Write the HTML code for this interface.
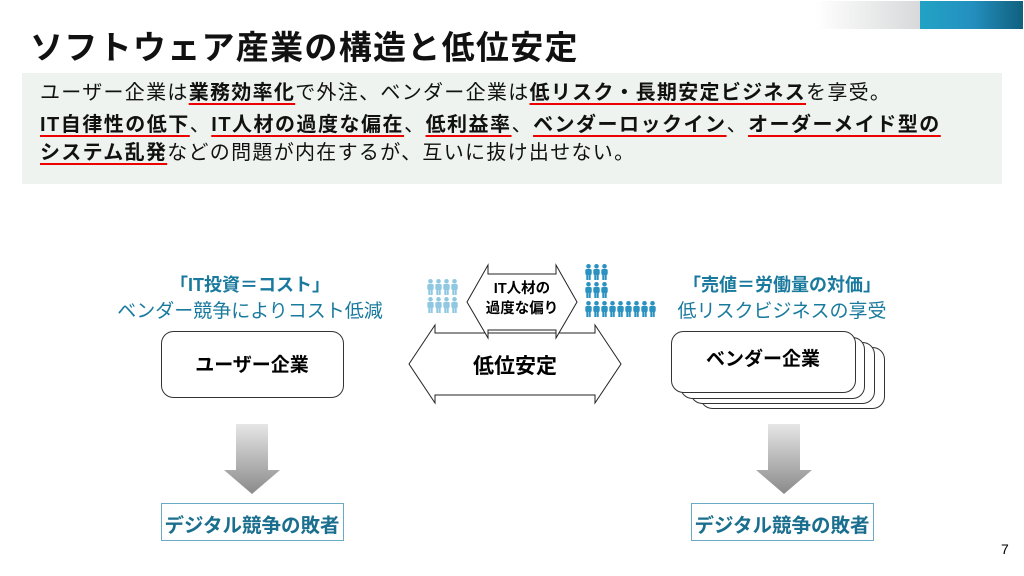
<!DOCTYPE html>
<html><head><meta charset="utf-8"><style>
body{margin:0;width:1024px;height:576px;background:#fff;position:relative;overflow:hidden;font-family:"Liberation Sans","Noto Sans CJK JP",sans-serif;}
.a{position:absolute;white-space:nowrap;}
b.u{font-weight:bold;text-decoration:underline;text-decoration-color:#e00;text-decoration-thickness:2px;text-underline-offset:4px;}
.c{text-align:center;}
.t{font-size:20px;letter-spacing:1.3px;color:#111;line-height:28px;}
</style></head><body>
<div class="a" style="left:816px;top:1px;width:104px;height:28px;background:linear-gradient(90deg,#fff,#d8d9da);"></div>
<div class="a" style="left:920px;top:1px;width:103px;height:28px;background:linear-gradient(90deg,#21a3c4,#2490c0 50%,#10607e);"></div>
<div class="a" style="left:30px;top:21px;font-size:33px;letter-spacing:1.3px;font-weight:bold;color:#111;">ソフトウェア産業の構造と低位安定</div>
<div class="a" style="left:22px;top:73px;width:980px;height:111px;background:#eef3ef;"></div>
<div class="a t" style="left:40px;top:79px;">ユーザー企業は<b class="u">業務効率化</b>で外注、ベンダー企業は<b class="u">低リスク・長期安定ビジネス</b>を享受。</div>
<div class="a t" style="left:40px;top:111px;letter-spacing:1.5px;"><b class="u">IT自律性の低下</b>、<b class="u">IT人材の過度な偏在</b>、<b class="u">低利益率</b>、<b class="u">ベンダーロックイン</b>、<b class="u">オーダーメイド型の</b></div>
<div class="a t" style="left:40px;top:139px;"><b class="u">システム乱発</b>などの問題が内在するが、互いに抜け出せない。</div>

<div class="a c" style="left:100px;width:300px;top:271px;font-size:18px;font-weight:bold;color:#1a7a9e;">「IT投資＝コスト」</div>
<div class="a c" style="left:100px;width:300px;top:296px;font-size:19px;color:#1a7a9e;">ベンダー競争によりコスト低減</div>
<div class="a c" style="left:632px;width:300px;top:271px;font-size:18px;font-weight:bold;color:#1a7a9e;">「売値＝労働量の対価」</div>
<div class="a c" style="left:632px;width:300px;top:296px;font-size:19px;color:#1a7a9e;">低リスクビジネスの享受</div>

<svg class="a" style="left:0;top:0" width="1024" height="576">
<defs>
<linearGradient id="g" x1="0" y1="0" x2="0" y2="1"><stop offset="0" stop-color="#e6e6e6"/><stop offset="1" stop-color="#8a8a8a"/></linearGradient>
<g id="p"><circle cx="3.5" cy="2.3" r="2.3"/><rect x="0.3" y="5" width="6.4" height="6" rx="1.5"/><rect x="1.3" y="10" width="2" height="6"/><rect x="3.7" y="10" width="2" height="6"/></g>
</defs>
<rect x="161.5" y="331.5" width="182" height="66" rx="12" fill="#fff" stroke="#333"/>
<rect x="700.5" y="347.5" width="184" height="61" rx="12" fill="#fff" stroke="#333"/>
<rect x="690.5" y="342.5" width="184" height="61" rx="12" fill="#fff" stroke="#333"/>
<rect x="680.5" y="337.5" width="184" height="61" rx="12" fill="#fff" stroke="#333"/>
<rect x="671.5" y="331.5" width="184" height="61" rx="12" fill="#fff" stroke="#333"/>
<polygon points="409,364 435,325 435,333 595,333 595,325 621,364 595,403 595,395 435,395 435,403" fill="#fff" stroke="#222"/>
<polygon points="467,302 488,265 488,274 556,274 556,265 577,302 556,338 556,330 488,330 488,338" fill="#fff" stroke="#222"/>
<polygon points="236,424 268,424 268,470 280,470 252,494 224,470 236,470" fill="url(#g)"/>
<polygon points="768,424 800,424 800,470 812,470 784,494 756,470 768,470" fill="url(#g)"/>
<rect x="161.5" y="503.5" width="182" height="37" fill="#fff" stroke="#6aaac4"/>
<rect x="691.5" y="503.5" width="182" height="37" fill="#fff" stroke="#6aaac4"/>
<g fill="#8fc8e0">
<use href="#p" x="427" y="279"/><use href="#p" x="435" y="279"/><use href="#p" x="443" y="279"/><use href="#p" x="451" y="279"/>
<use href="#p" x="427" y="297"/><use href="#p" x="435" y="297"/><use href="#p" x="443" y="297"/><use href="#p" x="451" y="297"/>
</g>
<g fill="#2a92c0">
<use href="#p" x="585" y="264"/><use href="#p" x="593" y="264"/><use href="#p" x="601" y="264"/>
<use href="#p" x="585" y="282"/><use href="#p" x="593" y="282"/><use href="#p" x="601" y="282"/>
<use href="#p" x="585" y="301"/><use href="#p" x="593" y="301"/><use href="#p" x="601" y="301"/><use href="#p" x="609" y="301"/><use href="#p" x="617" y="301"/><use href="#p" x="625" y="301"/><use href="#p" x="633" y="301"/><use href="#p" x="641" y="301"/><use href="#p" x="649" y="301"/>
</g>
</svg>
<div class="a c" style="left:161px;width:182px;top:350px;font-size:19px;font-weight:bold;">ユーザー企業</div>
<div class="a c" style="left:671px;width:184px;top:344px;font-size:19px;font-weight:bold;">ベンダー企業</div>
<div class="a c" style="left:409px;width:212px;top:350px;font-size:21px;font-weight:bold;">低位安定</div>
<div class="a c" style="left:470px;width:104px;top:279px;font-size:14.5px;font-weight:bold;line-height:20px;">IT人材の<br>過度な偏り</div>
<div class="a c" style="left:161px;width:182px;top:509px;font-size:19.5px;font-weight:bold;color:#1a6e8e;">デジタル競争の敗者</div>
<div class="a c" style="left:691px;width:182px;top:509px;font-size:19.5px;font-weight:bold;color:#1a6e8e;">デジタル競争の敗者</div>
<div class="a" style="left:1001px;top:541px;font-size:14px;">7</div>
</body></html>
